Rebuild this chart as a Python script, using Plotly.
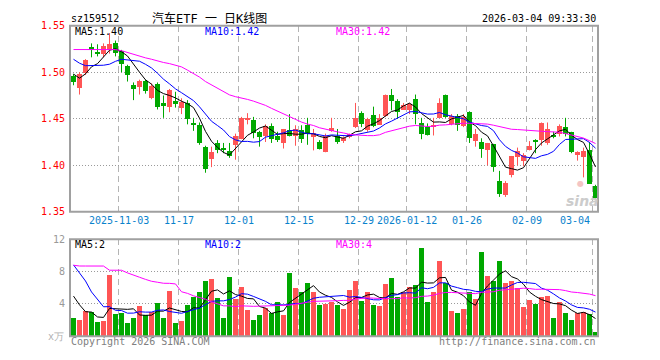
import numpy as np
import pandas as pd
import plotly.graph_objects as go

# ---------------- data ----------------
dates = [
    "2025-10-22", "2025-10-23", "2025-10-24", "2025-10-27", "2025-10-28", "2025-10-29", "2025-10-30", "2025-10-31",
    "2025-11-03", "2025-11-04", "2025-11-05", "2025-11-06", "2025-11-07", "2025-11-10", "2025-11-11", "2025-11-12",
    "2025-11-13", "2025-11-14", "2025-11-17", "2025-11-18", "2025-11-19", "2025-11-20", "2025-11-21", "2025-11-24",
    "2025-11-25", "2025-11-26", "2025-11-27", "2025-11-28", "2025-12-01", "2025-12-02", "2025-12-03", "2025-12-04",
    "2025-12-05", "2025-12-08", "2025-12-09", "2025-12-10", "2025-12-11", "2025-12-12", "2025-12-15", "2025-12-16",
    "2025-12-17", "2025-12-18", "2025-12-19", "2025-12-22", "2025-12-23", "2025-12-24", "2025-12-25", "2025-12-26",
    "2025-12-29", "2025-12-30", "2025-12-31", "2026-01-05", "2026-01-06", "2026-01-07", "2026-01-08", "2026-01-09",
    "2026-01-12", "2026-01-13", "2026-01-14", "2026-01-15", "2026-01-16", "2026-01-19", "2026-01-20", "2026-01-21",
    "2026-01-22", "2026-01-23", "2026-01-26", "2026-01-27", "2026-01-28", "2026-01-29", "2026-01-30", "2026-02-02",
    "2026-02-03", "2026-02-04", "2026-02-05", "2026-02-06", "2026-02-09", "2026-02-10", "2026-02-11", "2026-02-12",
    "2026-02-13", "2026-02-24", "2026-02-25", "2026-02-26", "2026-02-27", "2026-03-02", "2026-03-03", "2026-03-04",
]

open_p = [1.496, 1.483, 1.500, 1.527, 1.522, 1.520, 1.524, 1.532, 1.523, 1.507,
          1.487, 1.484, 1.491, 1.473, 1.488, 1.467, 1.463, 1.469, 1.462, 1.467,
          1.445, 1.444, 1.420, 1.407, 1.424, 1.418, 1.416, 1.422, 1.429, 1.450,
          1.449, 1.436, 1.432, 1.443, 1.432, 1.424, 1.438, 1.432, 1.438, 1.444,
          1.431, 1.425, 1.415, 1.438, 1.432, 1.426, 1.431, 1.441, 1.457, 1.438,
          1.454, 1.444, 1.453, 1.476, 1.469, 1.460, 1.460, 1.472, 1.446, 1.442,
          1.442, 1.451, 1.476, 1.445, 1.453, 1.443, 1.458, 1.426, 1.425, 1.417,
          1.423, 1.383, 1.368, 1.390, 1.409, 1.405, 1.417, 1.427, 1.427, 1.424,
          1.432, 1.434, 1.442, 1.436, 1.411, 1.409, 1.417, 1.378]

high_p = [1.498, 1.500, 1.514, 1.531, 1.530, 1.531, 1.542, 1.534, 1.524, 1.508,
          1.489, 1.492, 1.492, 1.488, 1.489, 1.475, 1.482, 1.479, 1.472, 1.470,
          1.451, 1.446, 1.421, 1.420, 1.427, 1.424, 1.424, 1.434, 1.452, 1.456,
          1.452, 1.437, 1.444, 1.445, 1.436, 1.439, 1.455, 1.443, 1.443, 1.451,
          1.439, 1.427, 1.434, 1.451, 1.439, 1.431, 1.434, 1.467, 1.458, 1.451,
          1.463, 1.455, 1.476, 1.482, 1.471, 1.467, 1.467, 1.476, 1.451, 1.445,
          1.451, 1.472, 1.476, 1.455, 1.455, 1.455, 1.458, 1.439, 1.429, 1.424,
          1.423, 1.394, 1.383, 1.410, 1.419, 1.413, 1.426, 1.428, 1.446, 1.446,
          1.436, 1.444, 1.451, 1.436, 1.415, 1.419, 1.425, 1.379]

low_p = [1.486, 1.476, 1.497, 1.516, 1.517, 1.516, 1.520, 1.517, 1.500, 1.490,
         1.470, 1.476, 1.477, 1.471, 1.460, 1.451, 1.457, 1.462, 1.455, 1.444,
         1.437, 1.422, 1.392, 1.398, 1.413, 1.413, 1.408, 1.406, 1.428, 1.444,
         1.429, 1.420, 1.425, 1.424, 1.425, 1.418, 1.431, 1.421, 1.424, 1.422,
         1.416, 1.417, 1.414, 1.436, 1.423, 1.424, 1.429, 1.440, 1.441, 1.436,
         1.441, 1.444, 1.452, 1.459, 1.450, 1.460, 1.455, 1.444, 1.428, 1.432,
         1.432, 1.451, 1.451, 1.443, 1.437, 1.441, 1.424, 1.420, 1.408, 1.400,
         1.393, 1.366, 1.366, 1.387, 1.400, 1.399, 1.416, 1.413, 1.421, 1.422,
         1.429, 1.431, 1.431, 1.413, 1.405, 1.387, 1.380, 1.364]

close_p = [1.490, 1.498, 1.513, 1.525, 1.520, 1.529, 1.531, 1.521, 1.509, 1.497,
           1.482, 1.491, 1.480, 1.486, 1.463, 1.465, 1.481, 1.467, 1.468, 1.450,
           1.444, 1.424, 1.396, 1.415, 1.417, 1.417, 1.410, 1.432, 1.451, 1.451,
           1.435, 1.431, 1.443, 1.429, 1.428, 1.439, 1.432, 1.439, 1.429, 1.434,
           1.435, 1.418, 1.432, 1.440, 1.425, 1.430, 1.434, 1.451, 1.445, 1.450,
           1.443, 1.451, 1.476, 1.469, 1.458, 1.465, 1.466, 1.455, 1.434, 1.433,
           1.444, 1.467, 1.452, 1.453, 1.444, 1.452, 1.430, 1.434, 1.418, 1.424,
           1.398, 1.369, 1.381, 1.410, 1.416, 1.411, 1.421, 1.426, 1.446, 1.439,
           1.431, 1.443, 1.434, 1.415, 1.415, 1.416, 1.380, 1.365]

# volume in 万 (10k)
volume = [2.17, 2.00, 3.05, 2.97, 1.77, 1.89, 7.55, 2.77, 2.89, 1.57,
          2.25, 3.69, 2.57, 3.01, 4.06, 2.25, 5.62, 1.57, 1.89, 3.82,
          4.78, 5.38, 6.83, 7.07, 4.66, 2.25, 7.31, 4.54, 6.10, 3.21,
          2.00, 2.61, 3.49, 2.85, 4.18, 2.61, 7.79, 5.98, 5.50, 6.59,
          5.50, 3.82, 3.98, 4.18, 3.82, 3.33, 5.74, 6.83, 4.30, 5.38,
          3.82, 3.69, 6.47, 7.19, 4.78, 5.38, 6.10, 6.35, 10.92, 4.18,
          5.50, 9.24, 6.59, 3.09, 2.85, 3.33, 5.38, 4.54, 10.44, 7.43,
          6.83, 9.24, 6.59, 6.83, 5.98, 3.57, 4.42, 3.94, 4.78, 4.90,
          2.25, 4.18, 2.85, 2.00, 2.85, 2.97, 2.73, 0.44]

# sessions before the visible window (estimated from where the MA lines start)
prior_close = [1.498, 1.513, 1.525, 1.520, 1.530, 1.531, 1.521, 1.545, 1.555, 1.556,
               1.540, 1.530, 1.531, 1.520, 1.512, 1.518, 1.522, 1.518, 1.555, 1.552,
               1.540, 1.540, 1.525, 1.520, 1.524, 1.520, 1.490, 1.487, 1.503]
prior_volume = [5.0, 3.1, 3.0, 1.8, 1.9, 23.0, 2.8, 3.0, 11.5, 11.5,
                10.5, 10.5, 10.0, 7.7, 6.0, 6.0, 3.7, 31.0, 9.8, 13.8,
                11.5, 13.5, 16.5, 11.5, 10.5, 7.4, 7.3, 3.2, 4.8]

tick_dates = ["2025-11-03", "2025-11-17", "2025-12-01", "2025-12-15", "2025-12-29",
              "2026-01-12", "2026-01-26", "2026-02-09", "2026-03-04"]
tick_labels = ["2025-11-03", "11-17", "12-01", "12-15", "12-29",
               "2026-01-12", "01-26", "02-09", "03-04"]
price_ticks = [1.35, 1.40, 1.45, 1.50, 1.55]
vol_ticks = [4, 8, 12]
ma_windows = [5, 10, 30]
price_ma_text = ["MA5:1.40", "MA10:1.42", "MA30:1.42"]
vol_ma_text = ["MA5:2", "MA10:2", "MA30:4"]

# ---------------- styling ----------------
W, H = 660, 360
PL, PR = 70, 598
P_TOP, P_BOT = 20.3, 212.3
V_TOP, V_BOT = 240.7, 340.7
MONO = "DejaVu Sans Mono"
RED, GREEN = "#ff5555", "#00a800"
MA_COLORS = ["#000000", "#0000ff", "#ff00ff"]
FRAME = "#a0a0a0"
GRID_V = "#b4b4b4"
GRID_H = "#9a9a9a"

n = len(dates)
idx = np.arange(n)
O = np.array(open_p); Hh = np.array(high_p); L = np.array(low_p); C = np.array(close_p)
V = np.array(volume)
up = C >= O
colors = [RED if u else GREEN for u in up]


def moving_avg(prior, cur, w):
    s = pd.Series(list(prior) + list(cur)).rolling(w).mean().to_numpy()
    return s[len(prior):]


def px_x(p):
    return p / W


def px_y(p):
    return 1 - p / H


fig = go.Figure()

# wicks
for col, mask in [(RED, up), (GREEN, ~up)]:
    xs, ys = [], []
    for i in idx[mask]:
        xs += [i, i, None]
        ys += [L[i], Hh[i], None]
    fig.add_trace(go.Scatter(x=xs, y=ys, mode="lines", line=dict(color=col, width=1),
                             xaxis="x", yaxis="y", hoverinfo="skip"))

# bodies
body = np.maximum(np.abs(C - O), 0.0011)
fig.add_trace(go.Bar(x=idx, y=body, base=np.minimum(O, C), width=0.8,
                     marker=dict(color=colors, line=dict(width=0)),
                     xaxis="x", yaxis="y", hoverinfo="skip"))

# price MAs
for w, col in zip(ma_windows, MA_COLORS):
    fig.add_trace(go.Scatter(x=idx, y=moving_avg(prior_close, C, w), mode="lines",
                             line=dict(color=col, width=1), xaxis="x", yaxis="y",
                             hoverinfo="skip"))

# volume bars
fig.add_trace(go.Bar(x=idx, y=V, width=0.8, marker=dict(color=colors, line=dict(width=0)),
                     xaxis="x2", yaxis="y2", hoverinfo="skip"))
for w, col in zip(ma_windows, MA_COLORS):
    fig.add_trace(go.Scatter(x=idx, y=moving_avg(prior_volume, V, w), mode="lines",
                             line=dict(color=col, width=1), xaxis="x2", yaxis="y2",
                             hoverinfo="skip"))

grid_x = [dates.index(d) - 0.5 for d in tick_dates]
shift = 1 / 12.0
xrange = [-0.5 - shift, n - 0.5 - shift]
xcommon = dict(domain=[PL / W, PR / W], range=xrange, tickvals=grid_x, showticklabels=False,
               ticks="", showgrid=True, gridcolor=GRID_V, griddash="6px,4px", gridwidth=1,
               zeroline=False, showline=False, fixedrange=True)

fig.update_layout(
    width=W, height=H, margin=dict(l=0, r=0, t=0, b=0),
    paper_bgcolor="white", plot_bgcolor="white", showlegend=False,
    barmode="overlay", bargap=0, hovermode=False,
    xaxis=dict(**xcommon, anchor="y"),
    xaxis2=dict(**xcommon, anchor="y2", matches="x"),
    yaxis=dict(domain=[px_y(P_BOT), px_y(P_TOP)], range=[1.35, 1.55], tickvals=price_ticks,
               ticktext=[f"{v:.2f}" for v in price_ticks],
               tickfont=dict(family=MONO, size=10, color="#ff0000"),
               showgrid=True, gridcolor=GRID_H, griddash="1px,2px", gridwidth=1,
               zeroline=False, showline=False, ticks="", ticklabelstandoff=4,
               anchor="x", fixedrange=True),
    yaxis2=dict(domain=[px_y(V_BOT), px_y(V_TOP)], range=[0, 12], tickvals=vol_ticks,
                ticktext=[str(v) for v in vol_ticks],
                tickfont=dict(family=MONO, size=10, color="#999999"),
                showgrid=True, gridcolor=GRID_H, griddash="1px,2px", gridwidth=1,
                zeroline=False, showline=False, ticks="", ticklabelstandoff=4,
                anchor="x2", fixedrange=True),
)

# panel frames
for xr, yr in [("x domain", "y domain"), ("x2 domain", "y2 domain")]:
    fig.add_shape(type="rect", xref=xr, yref=yr, x0=0, x1=1, y0=0, y1=1,
                  line=dict(color=FRAME, width=2), layer="above")


def text(x, y, s, color="#000000", size=10, anchor="left", family=MONO, **kw):
    fig.add_annotation(x=px_x(x), y=px_y(y), xref="paper", yref="paper", text=s,
                       showarrow=False, xanchor=anchor, yanchor="middle",
                       font=dict(family=family, size=size, color=color), **kw)


# header
text(69, 13, "sz159512")
text(150, 13, "汽车ETF 一 日K线图", size=12, family=MONO + ", Noto Sans CJK SC")
text(598, 13, "2026-03-04 09:33:30", anchor="right")

# MA legends
for s, x, col in zip(price_ma_text, [73, 203, 334], MA_COLORS):
    text(x, 26.5, s, color=col)
for s, x, col in zip(vol_ma_text, [73, 203, 334], MA_COLORS):
    text(x, 246.5, s, color=col)

# date labels
for k, (gx, lab) in enumerate(zip(grid_x, tick_labels)):
    last = k == len(grid_x) - 1
    fig.add_annotation(x=gx, y=px_y(221.5), xref="x", yref="paper", text=lab,
                       showarrow=False, xanchor="right" if last else "center",
                       yanchor="middle", xshift=-1 if last else 0,
                       font=dict(family=MONO, size=10, color="#0a82cc"))

# footer
text(69, 346, "Copyright 2026 SINA.COM", color="#808080")
text(598, 346, "http://finance.sina.com.cn", color="#808080", anchor="right")
text(66, 340.5, "x万", color="#b0b0b0", anchor="right")

# watermark
text(582, 201, "<b><i>sina</i></b>", color="#cccccc", size=14, anchor="center",
     family="DejaVu Sans")
text(580, 183, "●", color="#f4c4c4", size=8, anchor="center", family="DejaVu Sans")

fig.write_html("out.html", config={"displayModeBar": False},
               post_script="document.body.style.margin='0';document.body.style.overflow='hidden';")
